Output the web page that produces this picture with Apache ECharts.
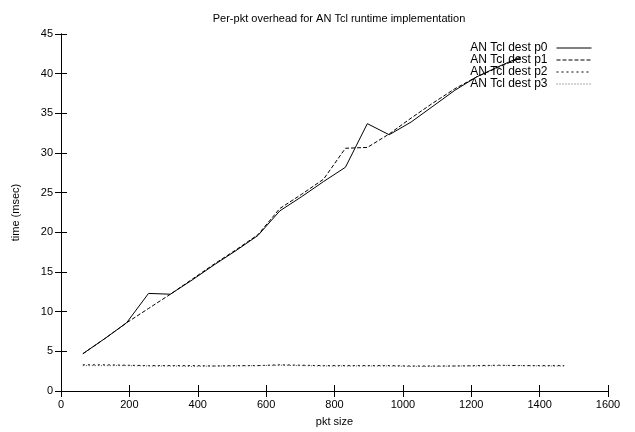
<!DOCTYPE html>
<html>
<head>
<meta charset="utf-8">
<script src="https://cdn.jsdelivr.net/npm/echarts@6/dist/echarts.min.js"></script>
<style>
  html, body { margin: 0; padding: 0; background: #fff; }
  #chart { width: 635px; height: 432px; }
</style>
</head>
<body>
<div id="chart"></div>
<script>
// packet sizes (bytes)
const sizesA = [64, 128, 192, 256, 320, 384, 448, 512, 576, 640, 704, 768, 832, 896, 960, 1024, 1088, 1152, 1216, 1280, 1344];
const sizesB = [64, 128, 192, 256, 320, 384, 448, 512, 576, 640, 704, 768, 832, 896, 960, 1024, 1088, 1152, 1216, 1280, 1344, 1408, 1472];

// time (msec)
const destP0 = [4.7, 6.6, 8.6, 12.3, 12.2, 14.0, 15.9, 17.7, 19.6, 22.7, 24.5, 26.4, 28.2, 33.7, 32.3, 33.9, 35.9, 37.9, 39.6, 40.9, 42.1];
const destP1 = [4.7, 6.6, 8.6, 10.4, 12.2, 14.1, 16.0, 17.8, 19.7, 23.0, 24.8, 26.7, 30.6, 30.7, 32.4, 34.4, 36.3, 38.1, 39.6, 40.8, 42.0];
const destP2 = [3.3, 3.3, 3.25, 3.2, 3.2, 3.2, 3.15, 3.2, 3.2, 3.3, 3.25, 3.2, 3.2, 3.2, 3.2, 3.15, 3.15, 3.15, 3.2, 3.25, 3.2, 3.2, 3.2];
const destP3 = [3.2, 3.2, 3.2, 3.15, 3.15, 3.1, 3.15, 3.15, 3.2, 3.25, 3.2, 3.15, 3.15, 3.15, 3.15, 3.1, 3.1, 3.15, 3.15, 3.2, 3.2, 3.15, 3.15];

const seriesNames = ['AN Tcl dest p0', 'AN Tcl dest p1', 'AN Tcl dest p2', 'AN Tcl dest p3'];
const xTicks = [0, 200, 400, 600, 800, 1000, 1200, 1400, 1600];
const yTicks = [0, 5, 10, 15, 20, 25, 30, 35, 40, 45];

const font = '"Liberation Sans", Arial, sans-serif';
const pair = (xs, ys) => xs.map((x, i) => [x, ys[i]]);

function lineSeries(name, xs, ys, color, type) {
  return {
    name: name,
    type: 'line',
    data: pair(xs, ys),
    symbol: 'none',
    showSymbol: false,
    animation: false,
    lineStyle: { color: color, width: 1, type: type },
    itemStyle: { color: color }
  };
}

const axisCommon = {
  axisLine: { show: true, lineStyle: { color: '#000', width: 1 } },
  axisTick: { show: true, inside: true, length: 6, lineStyle: { color: '#000' } },
  splitLine: { show: false }
};

const option = {
  backgroundColor: '#fff',
  animation: false,
  textStyle: { fontFamily: font },
  title: {
    text: 'Per-pkt overhead for AN Tcl runtime implementation',
    left: 334, top: 8, textAlign: 'center',
    textStyle: { fontSize: 11, fontWeight: 'normal', color: '#000', fontFamily: font }
  },
  legend: {
    data: seriesNames,
    orient: 'vertical',
    right: 38, top: 37,
    align: 'right',
    itemGap: 0,
    itemWidth: 35, itemHeight: 11,
    itemStyle: { color: 'transparent', borderWidth: 0, opacity: 0 },
    lineStyle: { width: 1 },
    textStyle: { fontSize: 12, color: '#000', fontFamily: font, padding: [0, 4, 0, 0] }
  },
  grid: { left: 61, right: 27, top: 34, bottom: 35 },
  xAxis: [
    Object.assign({
      type: 'value', min: xTicks[0], max: xTicks[xTicks.length - 1], interval: 200,
      name: 'pkt size', nameLocation: 'middle', nameGap: 25,
      nameTextStyle: { fontSize: 11, color: '#000', fontFamily: font },
      axisLabel: { fontSize: 11, color: '#000', fontFamily: font, margin: 8, formatter: v => String(v) }
    }, axisCommon),
    Object.assign({
      type: 'value', position: 'top', min: xTicks[0], max: xTicks[xTicks.length - 1], interval: 200,
      axisLabel: { show: false }
    }, axisCommon)
  ],
  yAxis: [
    Object.assign({
      type: 'value', min: yTicks[0], max: yTicks[yTicks.length - 1], interval: 5,
      name: 'time (msec)', nameLocation: 'middle', nameGap: 40, nameRotate: 90,
      nameTextStyle: { fontSize: 11, color: '#000', fontFamily: font },
      axisLabel: { fontSize: 11, color: '#000', fontFamily: font, margin: 8 }
    }, axisCommon),
    Object.assign({
      type: 'value', position: 'right', min: yTicks[0], max: yTicks[yTicks.length - 1], interval: 5,
      axisLabel: { show: false }
    }, axisCommon)
  ],
  series: [
    lineSeries(seriesNames[0], sizesA, destP0, '#000', 'solid'),
    lineSeries(seriesNames[1], sizesA, destP1, '#000', [4, 2]),
    lineSeries(seriesNames[2], sizesB, destP2, '#000', [2, 3]),
    lineSeries(seriesNames[3], sizesB, destP3, '#555', [1, 2])
  ]
};

const chart = echarts.init(document.getElementById('chart'), null, { renderer: 'canvas' });
chart.setOption(option);
</script>
</body>
</html>
